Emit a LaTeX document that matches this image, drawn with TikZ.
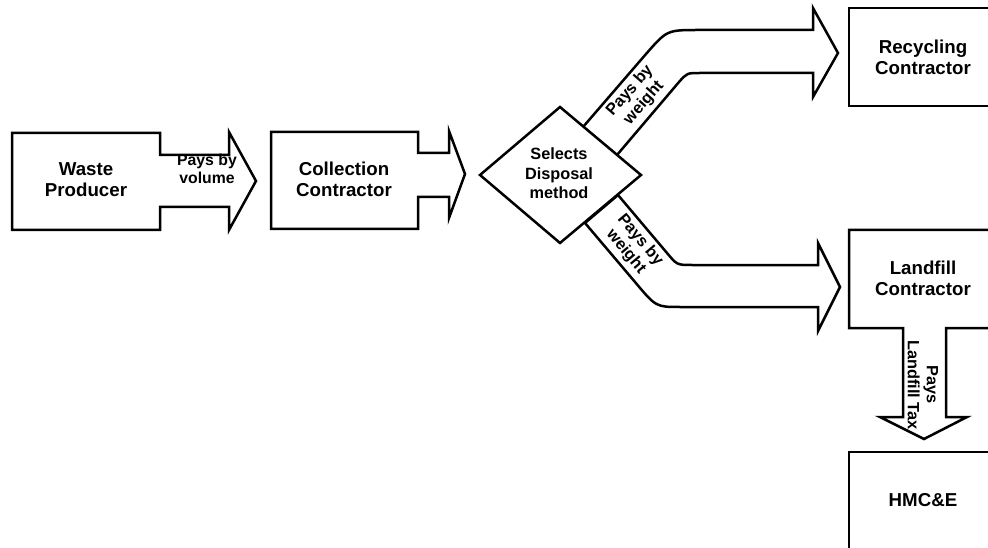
\documentclass[tikz,border=0pt]{standalone}
\usepackage{fontspec}
\setmainfont{Liberation Sans}
\begin{document}
\begin{tikzpicture}[x=1pt,y=-1pt,line width=2.5pt,
  blockshape/.style={draw=black,fill=white,line join=miter},
  boxlabel/.style={font=\bfseries\fontsize{18.7}{21}\selectfont,align=center,inner sep=0pt},
  arrowlabel/.style={font=\bfseries\fontsize{16.3}{18.5}\selectfont,align=center,inner sep=0pt},
  volumelabel/.style={font=\bfseries\fontsize{15.8}{17.7}\selectfont,align=center,inner sep=0pt},
  decisionlabel/.style={font=\bfseries\fontsize{16.3}{19.5}\selectfont,align=center,inner sep=0pt}]
\useasboundingbox (0,0) rectangle (988,548);
\clip (0,0) rectangle (988,548);
% Waste producer box with arrow
\draw[blockshape] (12,133) -- (160,133) -- (160,155) -- (229,155) -- (229,132) -- (256,181)
  -- (229,230) -- (229,207) -- (160,207) -- (160,230) -- (12,230) -- cycle;
% Collection contractor box with arrow
\draw[blockshape] (271,132) -- (418,132) -- (418,153) -- (449,153) -- (449,131) -- (465,174)
  -- (449,218) -- (449,197) -- (418,197) -- (418,229) -- (271,229) -- cycle;
% Upper bent arrow
\draw[blockshape] (583,127) -- (646,54) .. controls (667,30) .. (699,30) -- (813,30) -- (813,8)
  -- (838,53) -- (813,97) -- (813,73) -- (700,73) .. controls (687,73) .. (679,82) -- (617,155) -- cycle;
% Lower bent arrow
\draw[blockshape] (618,195) -- (667,253) .. controls (677,265) .. (692,265) -- (818,265) -- (818,243)
  -- (840,287) -- (818,331) -- (818,307) -- (680,307) .. controls (656,307) .. (635,282) -- (585,223) -- cycle;
% Decision diamond
\draw[blockshape] (480,175) -- (560,107) -- (641,175) -- (560,243) -- cycle;
% Recycling contractor
\draw[blockshape] (849,8) rectangle (998,106);
% Landfill contractor with down arrow
\draw[blockshape] (998,230) -- (849,230) -- (849,328) -- (903,328) -- (903,417) -- (880,417)
  -- (924,439) -- (967,417) -- (946,417) -- (946,328) -- (998,328) -- cycle;
% HMC&E
\draw[blockshape] (849,452) rectangle (998,560);
% Labels
\node[boxlabel] (waste) at (86,180) {Waste\\Producer};
\node[volumelabel] (volume) at (207,169) {Pays by\\volume};
\node[boxlabel] (collection) at (344,179.5) {Collection\\Contractor};
\node[decisionlabel] (select) at (559,173.5) {Selects\\Disposal\\method};
\node[arrowlabel,rotate=49] (upweight) at (637,97) {Pays by\\weight};
\node[arrowlabel,rotate=-50] (downweight) at (633,246) {Pays by\\weight};
\node[boxlabel] (recycling) at (923,57) {Recycling\\Contractor};
\node[boxlabel] (landfill) at (923,278) {Landfill\\Contractor};
\node[arrowlabel,font=\bfseries\fontsize{16.3}{19}\selectfont,rotate=-90] (tax) at (923,385) {Pays\\Landfill Tax};
\node[boxlabel] (hmce) at (923,500) {HMC\&E};
\end{tikzpicture}
\end{document}
